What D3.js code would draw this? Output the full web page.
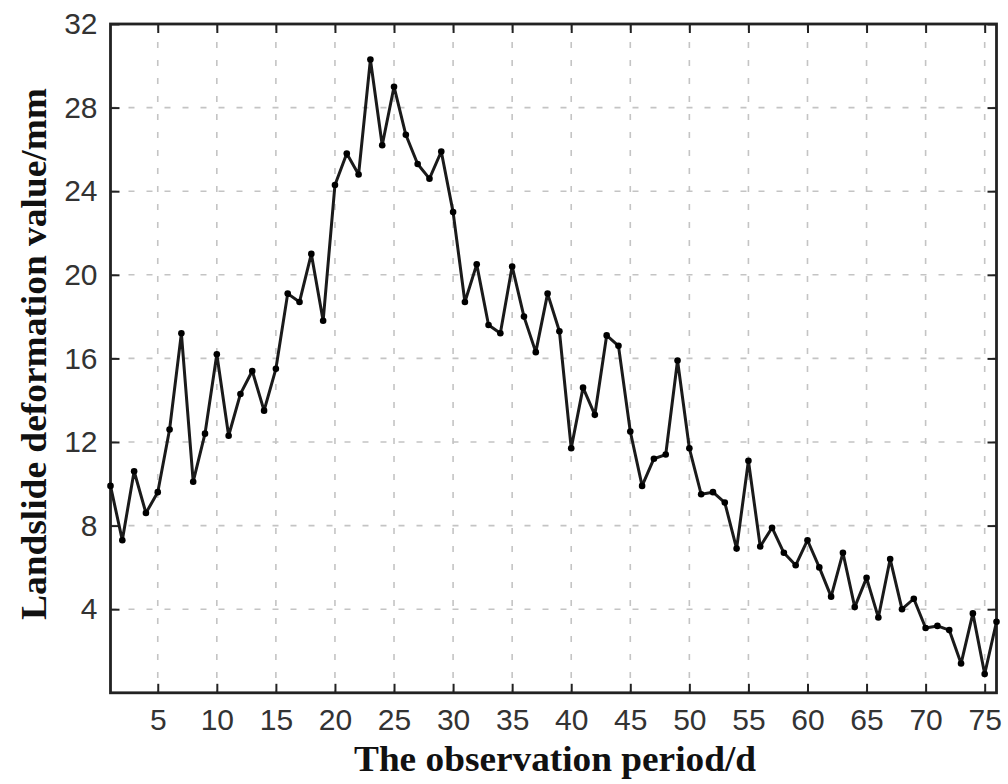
<!DOCTYPE html>
<html>
<head>
<meta charset="utf-8">
<script src="https://cdn.jsdelivr.net/npm/d3@7/dist/d3.min.js"></script>
<style>
  html, body { margin: 0; padding: 0; background: #fff; }
  svg { display: block; }
</style>
</head>
<body>
<svg id="chart" width="1008" height="784"></svg>
<script>
// ---- data ----
const days = d3.range(1, 77);
const deformation = [
  9.9, 7.3, 10.6, 8.6, 9.6, 12.6, 17.2, 10.1, 12.4, 16.2,
  12.3, 14.3, 15.4, 13.5, 15.5, 19.1, 18.7, 21.0, 17.8, 24.3,
  25.8, 24.8, 30.3, 26.2, 29.0, 26.7, 25.3, 24.6, 25.9, 23.0,
  18.7, 20.5, 17.6, 17.2, 20.4, 18.0, 16.3, 19.1, 17.3, 11.7,
  14.6, 13.3, 17.1, 16.6, 12.5, 9.9, 11.2, 11.4, 15.9, 11.7,
  9.5, 9.6, 9.1, 6.9, 11.1, 7.0, 7.9, 6.7, 6.1, 7.3,
  6.0, 4.6, 6.7, 4.1, 5.5, 3.6, 6.4, 4.0, 4.5, 3.1,
  3.2, 3.0, 1.4, 3.8, 0.9, 3.4
];
const xTicks = [5, 10, 15, 20, 25, 30, 35, 40, 45, 50, 55, 60, 65, 70, 75];
const yTicks = [4, 8, 12, 16, 20, 24, 28, 32];
const xLabel = "The observation period/d";
const yLabel = "Landslide deformation value/mm";

// ---- layout ----
const svg = d3.select("#chart");
const L = 110.5, R = 996.5, T = 24, B = 692.8;
const x = d3.scaleLinear().domain([1, 76]).range([L, R]);
const y = d3.scaleLinear().domain([0, 32]).range([B, T]);

// grid
const grid = svg.append("g").attr("stroke", "#c4c4c4").attr("stroke-width", 1.6)
  .attr("stroke-dasharray", "6,12");
grid.selectAll("line.v").data(xTicks).join("line").attr("class", "v")
  .attr("x1", d => x(d)).attr("x2", d => x(d)).attr("y1", T).attr("y2", B);
grid.selectAll("line.h").data(yTicks.filter(d => d < 32)).join("line").attr("class", "h")
  .attr("x1", L).attr("x2", R).attr("y1", d => y(d)).attr("y2", d => y(d));

// axes with inward ticks
const tickLen = 9;
function styleAxis(g) {
  g.selectAll(".domain").remove();
  g.selectAll(".tick line").attr("stroke", "#222").attr("stroke-width", 2);
  g.selectAll("text").attr("font-family", "'Liberation Sans', Arial, sans-serif")
    .attr("font-size", 30).attr("fill", "#333");
}
svg.append("g").attr("transform", `translate(0,${B})`)
  .call(d3.axisBottom(x).tickValues(xTicks).tickSize(-tickLen).tickPadding(16).tickFormat(d3.format("d")))
  .call(styleAxis);
svg.append("g").attr("transform", `translate(0,${T})`)
  .call(d3.axisTop(x).tickValues(xTicks).tickSize(-tickLen).tickFormat(""))
  .call(styleAxis);
svg.append("g").attr("transform", `translate(${L},0)`)
  .call(d3.axisLeft(y).tickValues(yTicks).tickSize(-tickLen).tickPadding(13).tickFormat(d3.format("d")))
  .call(styleAxis);
svg.append("g").attr("transform", `translate(${R},0)`)
  .call(d3.axisRight(y).tickValues(yTicks).tickSize(-tickLen).tickFormat(""))
  .call(styleAxis);

// frame
svg.append("rect").attr("x", L).attr("y", T).attr("width", R - L).attr("height", B - T)
  .attr("fill", "none").attr("stroke", "#222").attr("stroke-width", 2.8);

// line + markers
const pts = days.map((d, i) => [d, deformation[i]]);
svg.append("path").datum(pts)
  .attr("fill", "none").attr("stroke", "#1a1a1a").attr("stroke-width", 3)
  .attr("stroke-linejoin", "round")
  .attr("d", d3.line().x(d => x(d[0])).y(d => y(d[1])));
svg.append("g").selectAll("circle").data(pts).join("circle")
  .attr("cx", d => x(d[0])).attr("cy", d => y(d[1])).attr("r", 3.3)
  .attr("fill", "#000");

// axis labels
svg.append("text")
  .attr("x", 555).attr("y", 771)
  .attr("text-anchor", "middle")
  .attr("font-family", "'Liberation Serif', 'Times New Roman', serif")
  .attr("font-weight", "bold").attr("font-size", 36)
  .attr("textLength", 402).attr("lengthAdjust", "spacingAndGlyphs")
  .attr("fill", "#111")
  .text(xLabel);
svg.append("text")
  .attr("transform", "translate(46,354) rotate(-90)")
  .attr("text-anchor", "middle")
  .attr("font-family", "'Liberation Serif', 'Times New Roman', serif")
  .attr("font-weight", "bold").attr("font-size", 36)
  .attr("textLength", 532).attr("lengthAdjust", "spacingAndGlyphs")
  .attr("fill", "#111")
  .text(yLabel);
</script>
</body>
</html>
